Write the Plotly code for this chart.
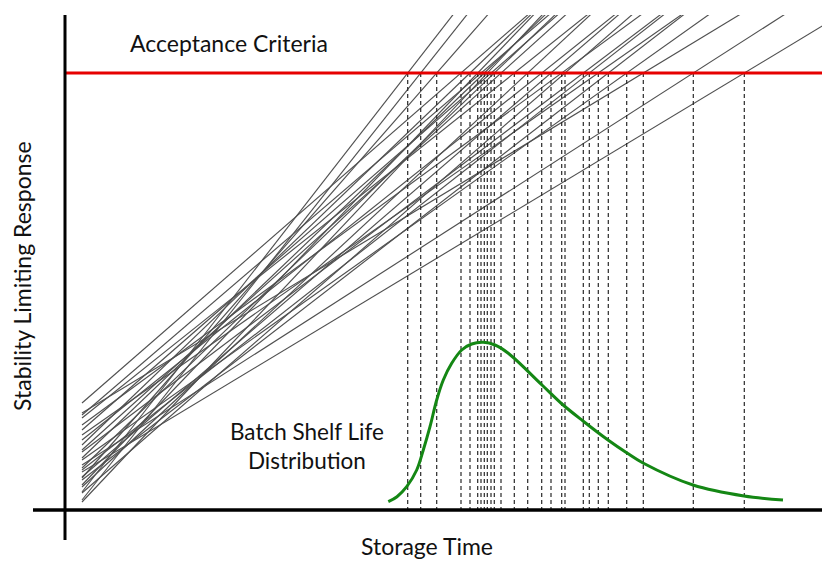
import plotly.graph_objects as go

# ---- data (time / response units, origin at the axes crossing) ----
acceptance_limit = 437
line_start_time = 17

# shelf life (time where each batch line crosses the acceptance limit)
batch_shelf_life = [342.7, 355.7, 371.7, 396, 405, 412.7, 416, 419.3, 422.3, 426,
                    429.3, 436, 449.3, 462.7, 476.7, 486, 496.7, 500, 518.3, 524.3,
                    533.3, 543.3, 561.7, 578.3, 628.3, 679.3]
# response of each batch at the first time point
batch_start_response = [18, 10, 32, 107, 65, 25, 95, 52, 8, 80,
                        42, 60, 92, 23, 70, 33, 85, 17, 58, 40,
                        75, 30, 50, 97, 45, 38]

# batch shelf life distribution curve
dist_time = [323.3, 332, 341.7, 351.7, 358.3, 365, 371.7, 378.3, 386.7, 396.7, 406.7,
             418.3, 430, 443.3, 477, 497, 518, 543, 562, 578, 628, 679, 718]
dist_density = [8.3, 13.3, 23.3, 40, 60, 83.3, 110, 130, 146.7, 160, 166,
                167.7, 165, 156.7, 125, 106, 89, 70, 57, 47, 25, 14, 10]

x_max = 765
y_max = 495

fig = go.Figure()

# batch regression lines
for sl, r0 in zip(batch_shelf_life, batch_start_response):
    slope = (acceptance_limit - r0) / (sl - line_start_time)
    t_end = x_max
    fig.add_trace(go.Scatter(
        x=[line_start_time, t_end],
        y=[r0, r0 + slope * (t_end - line_start_time)],
        mode="lines", line=dict(color="rgb(80,80,80)", width=1.15),
        hoverinfo="skip", showlegend=False))

# dashed drop lines at each shelf life
for sl in batch_shelf_life:
    fig.add_trace(go.Scatter(
        x=[sl, sl], y=[acceptance_limit, 0],
        mode="lines", line=dict(color="rgb(40,40,40)", width=1.2, dash="4px,3px"),
        hoverinfo="skip", showlegend=False))

# acceptance criteria line
fig.add_trace(go.Scatter(
    x=[0, 760], y=[acceptance_limit, acceptance_limit],
    mode="lines", line=dict(color="rgb(230,0,0)", width=3),
    hoverinfo="skip", showlegend=False))

# distribution curve
fig.add_trace(go.Scatter(
    x=dist_time, y=dist_density, mode="lines",
    line=dict(color="rgb(20,135,20)", width=3, shape="spline", smoothing=1.0),
    hoverinfo="skip", showlegend=False))

font = dict(family="Lato, Open Sans, sans-serif", size=23, color="#111")
font_b = dict(family="Lato, Open Sans, sans-serif", size=22.5, color="#111")

fig.update_layout(
    width=822, height=553,
    margin=dict(l=57, r=0, t=7, b=51),
    plot_bgcolor="white", paper_bgcolor="white",
    xaxis=dict(range=[0, x_max], visible=False, fixedrange=True),
    yaxis=dict(range=[0, y_max], visible=False, fixedrange=True),
    shapes=[
        dict(type="line", xref="paper", yref="paper", x0=0, x1=0,
             y0=-30 / y_max, y1=1, line=dict(color="black", width=3), layer="above"),
        dict(type="line", xref="paper", yref="paper", x0=-32 / x_max, x1=1,
             y0=0, y1=0, line=dict(color="black", width=3.5), layer="above"),
    ],
    annotations=[
        dict(text="Acceptance Criteria", x=63, y=467, xref="x", yref="y",
             xanchor="left", yanchor="middle", showarrow=False, font=font),
        dict(text="Batch Shelf Life<br>Distribution", x=242, y=64, xref="x", yref="y",
             xanchor="center", yanchor="middle", align="center", showarrow=False, font=font_b),
        dict(text="Storage Time", x=(427 - 65) / x_max, y=-(546 - 510) / y_max,
             xref="paper", yref="paper", xanchor="center", yanchor="middle",
             showarrow=False, font=font),
        dict(text="Stability Limiting Response", x=-(65 - 22) / x_max, y=(510 - 276) / y_max,
             xref="paper", yref="paper", xanchor="center", yanchor="middle",
             textangle=-90, showarrow=False, font=font),
    ],
)

fig.write_html("out.html")
